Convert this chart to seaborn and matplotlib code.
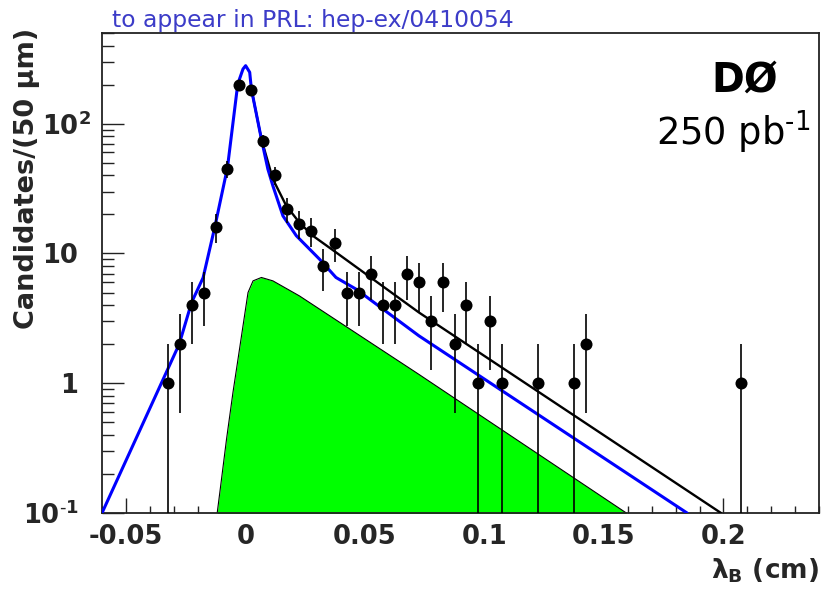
import numpy as np
import pandas as pd
import matplotlib
matplotlib.use("Agg")
import matplotlib.pyplot as plt
from matplotlib.ticker import MultipleLocator, LogLocator, NullFormatter
from matplotlib.transforms import ScaledTranslation
import seaborn as sns

# ---------------- data ----------------
bin_centers = [-0.0325, -0.0275, -0.0225, -0.0175, -0.0125, -0.0075, -0.0025,
               0.0025, 0.0075, 0.0125, 0.0175, 0.0225, 0.0275, 0.0325, 0.0375,
               0.0425, 0.0475, 0.0525, 0.0575, 0.0625, 0.0675, 0.0725, 0.0775,
               0.0825, 0.0875, 0.0925, 0.0975, 0.1025, 0.1075, 0.1225, 0.1375,
               0.1425, 0.2075]
counts = [1, 2, 4, 5, 16, 45, 199, 183, 73, 40, 22, 17, 15, 8, 12, 5, 5, 7, 4,
          4, 7, 6, 3, 6, 2, 4, 1, 3, 1, 1, 1, 2, 1]

# total fit (black), visible where it departs from the blue curve
black_x = [0.0025, 0.0067, 0.0115, 0.0171, 0.0226, 0.0282, 0.0379, 0.0476, 0.0726, 0.199]
black_y = [185, 76, 37.4, 23.3, 17.3, 13.7, 10.2, 7.57, 3.51, 0.1]

# blue curve
blue_x = [-0.06, -0.0277, -0.0225, -0.0177, -0.0128, -0.0075, -0.0032, -0.001,
          0.0001, 0.0018, 0.0025, 0.0067, 0.0094, 0.0115, 0.0157, 0.0213,
          0.031, 0.0379, 0.0463, 0.0726, 0.1848]
blue_y = [0.1, 2.0, 4.2, 6.5, 16, 46, 202, 264, 280, 249, 185, 76, 44.7, 33.2,
          19.5, 13.7, 9.04, 6.53, 5.31, 2.32, 0.1]

# green filled component
green_x = [-0.0118, -0.0107, -0.0079, -0.0052, -0.0031, -0.001, 0.0011, 0.0032,
           0.0067, 0.0115, 0.0226, 0.0726, 0.1594]
green_y = [0.1, 0.144, 0.37, 0.85, 1.53, 2.77, 5.0, 6.15, 6.53, 6.15, 4.71, 1.17, 0.1]

xtick_vals = [-0.05, 0, 0.05, 0.1, 0.15, 0.2]
xtick_labels = ["-0.05", "0", "0.05", "0.1", "0.15", "0.2"]
ytick_vals = [0.1, 1, 10, 100]
ytick_labels = [r"$\mathbf{10^{\text{-}1}}$", "1", "10", r"$\mathbf{10^{2}}$"]

# ---------------- figure ----------------
sns.set_theme(style="ticks")
plt.rcParams["font.family"] = ["DejaVu Sans"]

fig = plt.figure(figsize=(8.21, 5.89), dpi=100)
fig.patch.set_facecolor("white")
W, H = 821, 589
ax = fig.add_axes([102 / W, 76 / H, 717 / W, 480 / H])
ax.set_facecolor("white")
ax.set_yscale("log")
ax.set_xlim(-0.06, 0.24)
ax.set_ylim(0.1, 500)

# green fill
gdf = pd.DataFrame({"x": green_x, "y": green_y})
ax.fill_between(gdf["x"], gdf["y"], 1e-3, color="#00ff00", lw=0, zorder=1)
sns.lineplot(data=gdf, x="x", y="y", sort=False, estimator=None, color="black",
             lw=0.8, ax=ax, zorder=2)

# black total fit
sns.lineplot(x=black_x, y=black_y, sort=False, estimator=None, color="black",
             lw=1.7, ax=ax, zorder=3)
# blue curve
sns.lineplot(x=blue_x, y=blue_y, sort=False, estimator=None, color="#0000ff",
             lw=2.2, ax=ax, zorder=4)

# data points with Poisson errors
cnt = np.array(counts, dtype=float)
err = np.sqrt(cnt)
lo = np.minimum(err, cnt - 1e-4)
ax.errorbar(bin_centers, cnt, yerr=[lo, err], fmt="none", ecolor="black",
            elinewidth=1.2, capsize=0, zorder=5)
sns.scatterplot(x=bin_centers, y=counts, color="black", s=75, marker="o",
                edgecolor="black", linewidth=0, ax=ax, zorder=6)

# axes styling
for s in ax.spines.values():
    s.set_color("#222222")
    s.set_linewidth(1.3)

ax.set_xticks(xtick_vals)
ax.set_xticklabels(xtick_labels)
ax.xaxis.set_minor_locator(MultipleLocator(0.01))
ax.set_yticks(ytick_vals)
ax.set_yticklabels(ytick_labels)
ax.yaxis.set_minor_locator(LogLocator(base=10, subs=np.arange(2, 10), numticks=20))
ax.yaxis.set_minor_formatter(NullFormatter())

ax.tick_params(axis="x", which="major", direction="in", length=10.5, width=1.0,
               color="#222222", labelsize=18.5, pad=8)
ax.tick_params(axis="x", which="minor", direction="in", length=5, width=1.0,
               color="#222222")
ax.tick_params(axis="y", which="major", direction="in", length=16, width=1.0,
               color="#222222", labelsize=18.5, pad=17)
ax.tick_params(axis="y", which="minor", direction="in", length=8.5, width=1.0,
               color="#222222")
for lab in ax.get_xticklabels() + ax.get_yticklabels():
    lab.set_fontweight("bold")

# let the exponent of 10^2 hang to the right, as in the reference
top_tick = ax.yaxis.get_major_ticks()[3]
top_tick.label1.set_transform(top_tick.label1.get_transform()
                              + ScaledTranslation(0.13, 0, fig.dpi_scale_trans))

ax.set_xlabel(r"$\mathbf{\lambda_{B}}$ (cm)", fontsize=19, fontweight="bold",
              loc="right")
ax.xaxis.set_label_coords(1.0, -0.09)
ax.set_ylabel("Candidates/(50 μm)", fontsize=19.5, fontweight="bold", loc="top")
ax.yaxis.set_label_coords(-0.087, 1.01)

# texts
fig.text(112 / W, 1 - 27 / H, "to appear in PRL: hep-ex/0410054", color="#3c3cc8",
         fontsize=16.9, va="baseline", ha="left")
ax.text(778 / W, 1 - 92 / H, "DØ", transform=fig.transFigure, fontsize=28.5,
        fontweight="bold", ha="right", va="baseline", color="black")
ax.text(810 / W, 1 - 145 / H, r"250 pb$^{\text{-}1}$", transform=fig.transFigure,
        fontsize=26.5, ha="right", va="baseline", color="black")

fig.savefig("out.png", dpi=100, facecolor="white")
